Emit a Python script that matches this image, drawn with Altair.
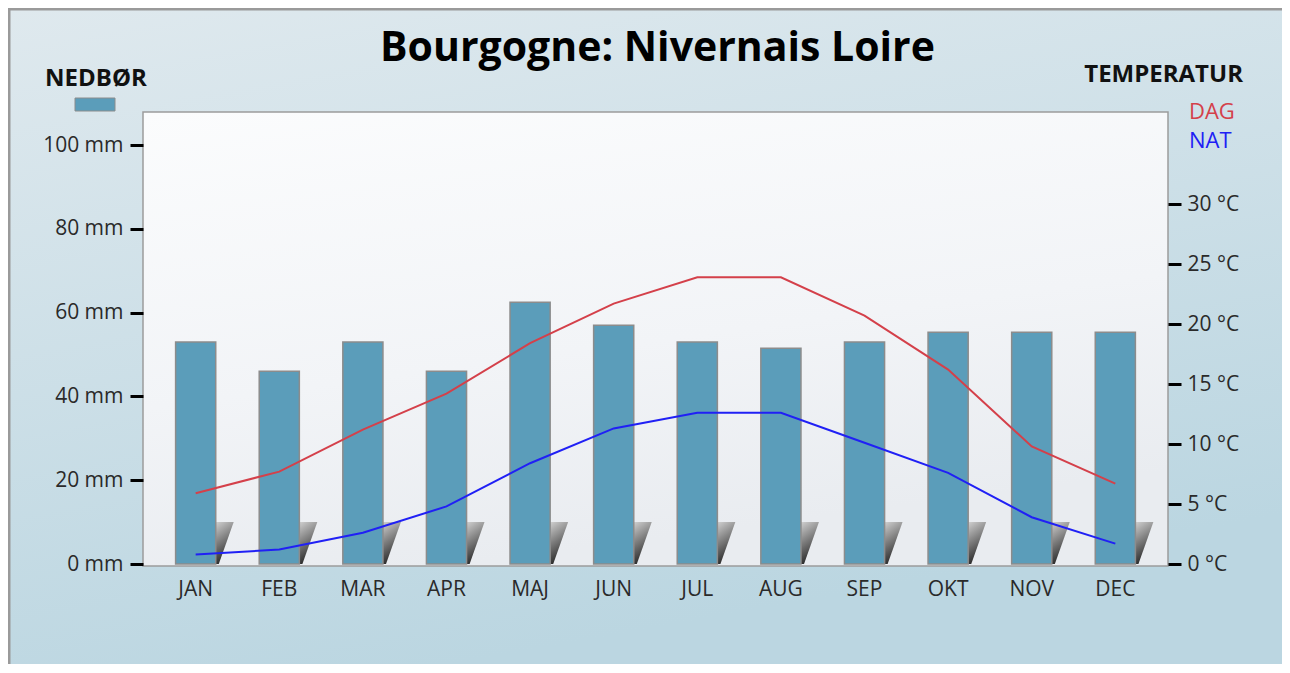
import altair as alt
import pandas as pd

months = ["JAN", "FEB", "MAR", "APR", "MAJ", "JUN", "JUL", "AUG", "SEP", "OKT", "NOV", "DEC"]
precip_mm = [53, 46, 53, 46, 62.5, 57, 53, 51.5, 53, 55.3, 55.3, 55.3]
day_temp = [5.9, 7.7, 11.2, 14.2, 18.4, 21.7, 23.9, 23.9, 20.7, 16.2, 9.8, 6.7]
night_temp = [0.8, 1.2, 2.6, 4.8, 8.4, 11.3, 12.6, 12.6, 10.1, 7.6, 3.9, 1.7]

mm_ticks = [0, 20, 40, 60, 80, 100]
temp_ticks = [0, 5, 10, 15, 20, 25, 30]

W, H = 1025, 452
PAD = {"left": 135, "top": 104, "right": 114, "bottom": 100}

FONT = "Open Sans"
BAR = "#5b9dba"
RED = "#d4404a"
BLUE = "#2020f5"

df = pd.DataFrame({"month": months, "precip": precip_mm, "day": day_temp, "night": night_temp})
one = pd.DataFrame({"k": [0]})

xenc = alt.X("month:N", sort=months,
             scale=alt.Scale(paddingInner=0.52, paddingOuter=0.39),
             axis=alt.Axis(title=None, labelAngle=0, ticks=False, domain=False,
                           labelFont=FONT, labelFontSize=21, labelColor="#2a2a2a",
                           labelPadding=14, zindex=1))

mm_scale = alt.Scale(domain=[0, 107.9], nice=False, zero=True)
t_scale = alt.Scale(domain=[0, 37.67], nice=False, zero=True)

# decorative background
bg = alt.Chart(one).mark_rect(
    fill=alt.Gradient(gradient="linear", x1=0, y1=0, x2=0.35, y2=1,
                      stops=[alt.GradientStop(offset=0, color="#dfe9ee"),
                             alt.GradientStop(offset=1, color="#bbd6e1")])
).encode(x=alt.value(-PAD["left"]), x2=alt.value(W + PAD["right"]),
         y=alt.value(-PAD["top"]), y2=alt.value(H + PAD["bottom"]))

top_border = alt.Chart(one).mark_rule(color="#9a9a9a", strokeWidth=3).encode(
    x=alt.value(-PAD["left"]), x2=alt.value(W + PAD["right"]), y=alt.value(-PAD["top"] + 1))
left_border = alt.Chart(one).mark_rule(color="#9a9a9a", strokeWidth=3).encode(
    x=alt.value(-PAD["left"] + 1), y=alt.value(-PAD["top"]), y2=alt.value(H + PAD["bottom"]))

plot_bg = alt.Chart(one).mark_rect(
    fill=alt.Gradient(gradient="linear", x1=0, y1=0, x2=0.3, y2=1,
                      stops=[alt.GradientStop(offset=0, color="#fbfcfd"),
                             alt.GradientStop(offset=0.6, color="#f2f4f7"),
                             alt.GradientStop(offset=1, color="#e9ecf0")]),
    stroke="#9c9c9c", strokeWidth=1.5
).encode(x=alt.value(0), x2=alt.value(W), y=alt.value(0), y2=alt.value(H + 2))

# bars with little shadow wedges
shadow = alt.Chart(df).mark_point(
    shape="M -0.43 -1 L 0.43 -1 L -0.28 1 L -0.43 1 Z", size=1764, filled=True, opacity=1,
    fill=alt.Gradient(gradient="linear", x1=0, y1=0, x2=0.3, y2=1,
                      stops=[alt.GradientStop(offset=0, color="#d0d0d0"),
                             alt.GradientStop(offset=1, color="#262626")]),
    strokeWidth=0, xOffset=29, yOffset=-21
).encode(x=xenc, y=alt.datum(0, scale=mm_scale))

bars = alt.Chart(df).mark_bar(color=BAR, stroke="#8c8c8c", strokeWidth=1.5).encode(
    x=xenc,
    y=alt.Y("precip:Q", scale=mm_scale,
            axis=alt.Axis(title=None, values=mm_ticks, labelExpr="datum.value + ' mm'",
                          orient="left", domain=False, grid=False, tickSize=13, tickWidth=3,
                          tickColor="#000", labelFont=FONT, labelFontSize=21,
                          labelColor="#2a2a2a", labelPadding=7, zindex=1)))

mm_layer = alt.layer(shadow, bars)

day_line = alt.Chart(df).mark_line(color=RED, strokeWidth=2).encode(
    x=xenc,
    y=alt.Y("day:Q", scale=t_scale,
            axis=alt.Axis(title=None, values=temp_ticks, labelExpr="datum.value + ' °C'",
                          orient="right", domain=False, grid=False, tickSize=13, tickWidth=3,
                          tickColor="#000", labelFont=FONT, labelFontSize=21,
                          labelColor="#2a2a2a", labelPadding=6, zindex=1)))
night_line = alt.Chart(df).mark_line(color=BLUE, strokeWidth=2).encode(
    x=xenc, y=alt.Y("night:Q", scale=t_scale))
t_layer = alt.layer(day_line, night_line)

# title and legend texts
def label(txt, x, y, color="#111", weight="bold", size=24, align="center", baseline="middle"):
    return alt.Chart(one).mark_text(text=txt, font=FONT, fontSize=size, fontWeight=weight,
                                    color=color, align=align, baseline=baseline).encode(
        x=alt.value(x), y=alt.value(y))

swatch = alt.Chart(one).mark_rect(color=BAR, stroke="#8c8c8c", strokeWidth=1).encode(
    x=alt.value(-68), x2=alt.value(-28), y=alt.value(-14), y2=alt.value(-1))

texts = [
    label("Bourgogne: Nivernais Loire", W / 2 + 2, -51, color="#000", size=41,
          baseline="alphabetic"),
    label("NEDBØR", -47, -33),
    label("TEMPERATUR", 1100, -37, align="right"),
    label("DAG", 1046, 0, color=RED, weight="normal", size=22, align="left"),
    label("NAT", 1046, 29, color=BLUE, weight="normal", size=22, align="left"),
]

chart = alt.layer(bg, top_border, left_border, plot_bg, mm_layer, t_layer, swatch, *texts).resolve_scale(
    y="independent"
).properties(
    width=W, height=H, padding=PAD, autosize=alt.AutoSizeParams(type="none"),
).configure_view(strokeWidth=0)

chart.save("out.html", embed_options={"renderer": "svg", "actions": False})
